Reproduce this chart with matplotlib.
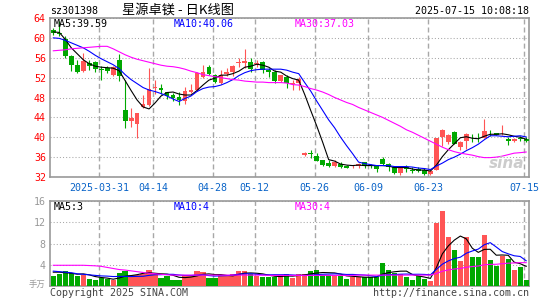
import matplotlib
matplotlib.use('Agg')
import matplotlib.pyplot as plt
import numpy as np

# ---- data (index = trading day, 2025-03-19 .. 2025-07-15) ----
tick_idx = [8, 17, 27, 34, 44, 53, 63, 79]
tick_labels = ['2025-03-31', '04-14', '04-28', '05-12', '05-26', '06-09', '06-23', '07-15']

open_px = [61.5, 61.0, 59.8, 56.4, 54.5, 53.3, 55.0, 55.1, 53.6, 53.9,
           52.6, 55.6, 45.5, 43.2, 42.6, 46.1, 46.4, 49.9, 49.9, 49.1,
           48.5, 48.1, 47.3, 49.1, 49.5, 52.2, 54.2, 52.5, 50.9, 52.7,
           53.1, 55.0, 54.9, 55.2, 54.8, 55.2, 53.5, 53.1, 51.3, 52.2,
           50.8, 51.0, 36.4, 36.8, 36.2, 35.4, 34.9, 34.2, 34.7, 34.2,
           34.2, 34.2, 35.0, 34.5, 34.3, 35.7, 34.7, 34.0, 32.9, 34.0,
           33.5, 33.7, 33.5, 32.7, 33.5, 40.0, 39.1, 41.1, 38.0, 39.2,
           40.1, 40.1, 39.9, 41.1, 40.9, 40.6, 39.7, 39.3, 39.8, 39.7]
high_px = [62.0, 63.3, 60.3, 56.6, 55.6, 56.9, 55.6, 55.4, 54.3, 54.3,
           54.4, 56.8, 51.5, 45.9, 44.9, 48.5, 53.9, 51.5, 50.8, 49.2,
           48.9, 49.1, 50.2, 50.7, 53.2, 54.5, 54.5, 52.8, 53.5, 54.0,
           54.5, 55.9, 57.7, 56.0, 55.5, 55.3, 53.9, 53.5, 52.6, 52.5,
           51.5, 52.2, 37.0, 37.5, 36.9, 35.5, 35.5, 35.5, 35.1, 34.5,
           34.5, 34.9, 35.1, 34.7, 34.5, 36.0, 34.9, 34.2, 34.0, 34.5,
           34.0, 34.0, 33.9, 33.5, 39.84, 41.6, 40.7, 41.2, 39.2, 40.9,
           40.7, 40.9, 43.7, 41.5, 40.9, 42.5, 40.0, 39.8, 40.2, 40.0]
low_px = [60.6, 60.3, 56.0, 53.3, 52.9, 53.2, 53.5, 53.2, 51.5, 52.9,
          52.4, 51.4, 41.9, 42.0, 39.8, 45.8, 46.2, 48.7, 48.8, 47.7,
          47.3, 46.5, 46.7, 49.0, 49.3, 52.0, 52.5, 51.0, 50.7, 52.4,
          52.3, 54.2, 54.0, 53.2, 54.2, 52.9, 52.2, 50.9, 51.2, 49.9,
          49.6, 49.5, 36.3, 35.9, 35.2, 34.2, 34.0, 34.0, 33.8, 33.8,
          33.9, 33.9, 33.9, 33.9, 33.1, 34.5, 33.3, 32.7, 32.4, 33.1,
          32.9, 33.1, 32.5, 32.5, 33.5, 38.2, 38.7, 38.6, 37.5, 37.7,
          39.1, 39.1, 39.9, 40.2, 40.4, 40.5, 38.5, 39.1, 39.3, 39.0]
close_px = [61.0, 60.8, 56.4, 54.5, 53.2, 55.3, 54.4, 53.7, 53.5, 53.3,
            54.2, 52.4, 43.2, 43.8, 44.8, 46.7, 49.8, 50.0, 49.6, 48.4,
            47.9, 47.5, 49.3, 49.5, 52.9, 53.1, 52.7, 51.2, 52.5, 53.2,
            54.4, 55.1, 55.3, 53.7, 54.9, 53.5, 53.2, 51.3, 52.5, 50.9,
            50.9, 51.7, 36.9, 36.7, 35.3, 34.5, 34.2, 35.1, 34.1, 33.9,
            34.3, 34.7, 34.3, 34.3, 33.7, 34.7, 34.1, 32.9, 33.9, 33.7,
            33.2, 33.3, 32.7, 33.2, 39.84, 41.5, 40.4, 38.7, 39.1, 40.7,
            40.0, 40.0, 41.3, 41.0, 40.5, 40.6, 39.3, 39.7, 39.7, 39.2]

ma5_px = [61.2, 61.1, 59.7, 58.0, 56.8, 55.6, 54.8, 54.3, 54.1, 54.0,
          53.9, 53.4, 51.4, 49.4, 47.5, 46.1, 45.7, 46.9, 48.3, 49.0,
          49.1, 48.7, 48.5, 48.5, 49.4, 50.5, 51.5, 51.9, 52.5, 52.5,
          52.8, 53.3, 54.1, 54.3, 54.7, 54.5, 54.1, 53.3, 53.1, 52.3,
          51.8, 51.5, 48.6, 45.4, 42.3, 39.0, 35.5, 35.2, 34.6, 34.4,
          34.3, 34.4, 34.3, 34.3, 34.3, 34.3, 34.2, 33.9, 33.9, 33.9,
          33.6, 33.4, 33.4, 33.2, 34.4, 36.1, 37.5, 38.7, 39.9, 40.1,
          39.8, 39.7, 40.2, 40.6, 40.6, 40.7, 40.5, 40.2, 40.0, 39.6]
ma10_px = [60.0, 59.9, 59.5, 59.0, 58.5, 58.0, 57.3, 56.5, 55.8, 55.2,
           54.6, 53.8, 52.6, 51.6, 50.8, 50.0, 49.5, 49.2, 48.8, 48.3,
           47.7, 47.2, 47.8, 48.3, 49.2, 49.8, 50.1, 50.2, 50.5, 51.0,
           51.6, 52.4, 53.0, 53.4, 53.6, 53.7, 53.7, 53.7, 53.7, 53.5,
           53.1, 52.8, 51.0, 49.3, 47.3, 45.4, 43.5, 41.9, 40.0, 38.3,
           36.7, 35.0, 34.7, 34.5, 34.3, 34.3, 34.3, 34.1, 34.1, 34.1,
           34.0, 33.8, 33.7, 33.5, 34.2, 34.8, 35.5, 36.0, 36.6, 37.3,
           37.9, 38.6, 39.5, 40.3, 40.3, 40.2, 40.1, 40.2, 40.3, 40.06]
ma30_px = [57.4, 57.5, 57.6, 57.8, 57.9, 58.0, 58.1, 58.2, 58.3, 58.3,
           57.8, 57.2, 56.6, 56.1, 55.7, 55.4, 55.1, 54.8, 54.5, 54.3,
           54.2, 54.0, 53.7, 53.3, 53.0, 52.6, 52.4, 52.2, 52.0, 51.8,
           51.6, 51.5, 51.3, 51.2, 51.1, 51.1, 51.0, 51.0, 51.0, 50.9,
           50.6, 50.5, 50.2, 49.8, 49.5, 49.1, 48.6, 48.0, 47.5, 47.0,
           46.6, 46.0, 45.5, 45.0, 44.5, 44.0, 43.4, 42.8, 42.2, 41.5,
           41.0, 40.4, 39.8, 39.2, 38.6, 38.0, 37.5, 37.1, 36.8, 36.6,
           36.4, 36.1, 35.9, 35.9, 36.0, 36.2, 36.5, 36.8, 36.9, 37.03]

volume = [1.8, 2.3, 2.8, 2.4, 1.8, 2.1, 1.4, 1.2, 1.5, 1.25,
          1.05, 2.5, 2.9, 2.1, 2.1, 2.3, 3.1, 2.4, 1.6, 1.8,
          1.2, 1.2, 2.1, 2.1, 2.9, 2.7, 1.6, 1.45, 2.1, 2.1,
          2.3, 2.9, 2.75, 2.25, 1.8, 1.7, 1.7, 1.7, 2.0, 2.3,
          1.6, 2.3, 2.3, 2.9, 3.1, 2.1, 2.1, 2.1, 1.8, 1.4,
          1.7, 1.7, 1.7, 1.7, 1.7, 4.4, 3.1, 2.5, 2.25, 1.75,
          1.2, 1.8, 1.4, 1.0, 11.9, 14.2, 9.3, 6.8, 4.8, 9.25,
          5.4, 5.4, 9.6, 4.9, 3.7, 5.6, 5.1, 3.1, 3.5, 1.2]
ma5_vol = [2.6, 2.6, 2.5, 2.4, 2.22, 2.28, 2.1, 1.78, 1.6, 1.49,
           1.28, 1.5, 1.84, 1.96, 2.13, 2.38, 2.5, 2.4, 2.3, 2.24,
           2.02, 1.64, 1.58, 1.68, 1.9, 2.2, 2.28, 2.15, 2.15, 1.99,
           1.91, 2.17, 2.43, 2.46, 2.4, 2.28, 2.04, 1.83, 1.78, 1.88,
           1.86, 1.98, 2.1, 2.28, 2.44, 2.54, 2.5, 2.46, 2.24, 1.9,
           1.82, 1.74, 1.66, 1.64, 1.7, 2.24, 2.52, 2.68, 2.79, 2.8,
           2.16, 1.9, 1.68, 1.43, 3.46, 6.06, 7.56, 8.64, 9.4, 8.87,
           7.11, 6.33, 6.89, 6.91, 5.8, 5.84, 5.78, 4.48, 4.2, 3.7]
ma10_vol = [2.8, 2.7, 2.6, 2.5, 2.3, 2.2, 2.1, 2.0, 1.9, 1.86,
            1.78, 1.8, 1.81, 1.78, 1.81, 1.83, 2.0, 2.12, 2.13, 2.19,
            2.2, 2.07, 1.99, 1.99, 2.07, 2.11, 1.96, 1.87, 1.92, 1.95,
            2.06, 2.23, 2.29, 2.31, 2.2, 2.1, 2.1, 2.13, 2.12, 2.14,
            2.07, 2.01, 1.97, 2.03, 2.16, 2.2, 2.24, 2.28, 2.26, 2.17,
            2.18, 2.12, 2.06, 1.94, 1.8, 2.03, 2.13, 2.17, 2.22, 2.25,
            2.2, 2.21, 2.18, 2.11, 3.13, 4.11, 4.73, 5.16, 5.42, 6.17,
            6.59, 6.95, 7.77, 8.16, 7.34, 6.48, 6.06, 5.69, 5.56, 4.75]
ma30_vol = [3.9, 3.9, 3.9, 3.9, 3.9, 3.9, 3.85, 3.8, 3.7, 3.5,
            3.3, 3.1, 3.0, 2.85, 2.7, 2.55, 2.4, 2.3, 2.2, 2.1,
            2.05, 2.05, 2.05, 2.05, 2.05, 2.05, 2.05, 2.05, 2.05, 2.05,
            2.05, 2.05, 2.05, 2.05, 2.05, 2.05, 2.0, 2.0, 2.0, 2.0,
            2.0, 2.0, 2.0, 2.0, 2.0, 2.0, 2.0, 2.0, 2.0, 2.0,
            2.0, 2.05, 2.05, 2.05, 2.05, 2.05, 2.05, 2.05, 2.05, 2.05,
            2.05, 2.05, 2.05, 2.05, 2.36, 2.78, 3.03, 3.2, 3.3, 3.53,
            3.66, 3.76, 4.0, 4.07, 4.09, 4.2, 4.3, 4.34, 4.4, 4.39]

RED = '#ff5555'
GREEN = '#00a800'
GRID = '#a8a8a8'
FRAME = '#999999'
MONO = ['DejaVu Sans Mono', 'Noto Sans CJK SC']
CJK = ['Noto Sans CJK SC', 'DejaVu Sans']
plt.rcParams['font.family'] = MONO

W, H = 545, 300
fig = plt.figure(figsize=(W / 100, H / 100), dpi=100)


def box(x0, y0, x1, y1):
    return [x0 / W, 1 - y1 / H, (x1 - x0) / W, (y1 - y0) / H]


def ftext(x, y, s, **kw):
    fig.text(x / W, 1 - y / H, s, **kw)


ax = fig.add_axes(box(50, 18, 529, 177))
axv = fig.add_axes(box(50, 201, 529, 286))

x = np.arange(len(close_px))
o = np.array(open_px)
c = np.array(close_px)
cols = np.where(c >= o, RED, GREEN)

# price candles
ax.vlines(x, low_px, high_px, colors=cols, lw=0.8, zorder=3)
ax.bar(x, np.maximum(np.abs(c - o), 0.15), 0.8, bottom=np.minimum(o, c),
       color=cols, lw=0, zorder=3)
ax.plot(x, ma5_px, color='black', lw=0.8, zorder=4)
ax.plot(x, ma10_px, color='#0000ff', lw=0.8, zorder=4)
ax.plot(x, ma30_px, color='#ff00ff', lw=0.8, zorder=4)

# volume bars
axv.bar(x, volume, 0.88, color=cols, lw=0, zorder=3)
axv.plot(x, ma5_vol, color='black', lw=0.8, zorder=4)
axv.plot(x, ma10_vol, color='#0000ff', lw=0.8, zorder=4)
axv.plot(x, ma30_vol, color='#ff00ff', lw=0.8, zorder=4)

gx = [i - 0.35 for i in tick_idx]
for a in (ax, axv):
    a.set_xlim(-0.55, 79.47)
    for g in gx:
        a.axvline(g, color=GRID, lw=1, ls=(0, (3.6, 2.2)), zorder=1)
    a.grid(axis='y', color=GRID, lw=0.75, ls=(0, (1, 2)), zorder=1)
    for s in a.spines.values():
        s.set_color(FRAME)
        s.set_linewidth(1.2)
    a.tick_params(length=0)

ax.set_ylim(32, 64)
ax.set_yticks(range(32, 65, 4))
ax.tick_params(axis='y', colors='#ff0000', labelsize=7.2, pad=3)
ax.set_xticks(gx)
ax.set_xticklabels(tick_labels)
ax.tick_params(axis='x', colors='#0a64c8', labelsize=7.2, pad=4)

axv.set_ylim(0, 16)
axv.set_yticks([4, 8, 12, 16])
axv.tick_params(axis='y', colors='#999999', labelsize=7.2, pad=3)
axv.set_xticks(gx)
axv.set_xticklabels([])

# header
ftext(50, 11, 'sz301398', fontsize=7.2, va='center', ha='left')
ftext(178, 10.5, '星源卓镁 - 日K线图', family=CJK, fontsize=9.5, va='center', ha='center')
ftext(529, 11.5, '2025-07-15 10:08:18', fontsize=7.2, va='center', ha='right')

# MA legends
ftext(54, 24, 'MA5:39.59', fontsize=7.2, va='center', color='black')
ftext(174, 24, 'MA10:40.06', fontsize=7.2, va='center', color='#0000ff')
ftext(295, 24, 'MA30:37.03', fontsize=7.2, va='center', color='#ff00ff')
ftext(54, 207, 'MA5:3', fontsize=7.2, va='center', color='black')
ftext(174, 207, 'MA10:4', fontsize=7.2, va='center', color='#0000ff')
ftext(295, 207, 'MA30:4', fontsize=7.2, va='center', color='#ff00ff')

ftext(45, 284, '手万', family=CJK, fontsize=6, va='center', ha='right', color='#999999')
ftext(50, 293, 'Copyright 2025 SINA.COM', fontsize=7.2, va='center', color='#444444')
ftext(529, 293, 'http://finance.sina.com.cn', fontsize=7.2, va='center', ha='right', color='#444444')

# watermark
ftext(507, 164, 'sina', fontsize=11, fontweight='bold', style='italic', family='DejaVu Sans',
      va='center', ha='center', color='#c0c0c0', alpha=0.8)

fig.savefig('out.png', dpi=100)
